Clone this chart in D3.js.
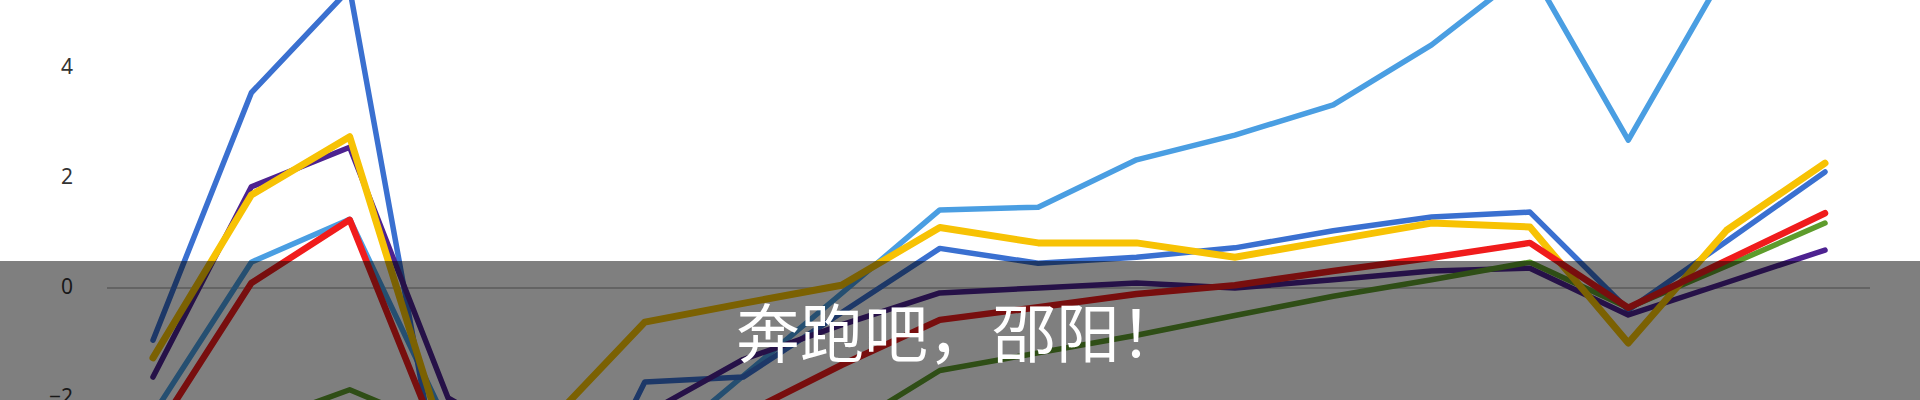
<!DOCTYPE html>
<html>
<head>
<meta charset="utf-8">
<script src="https://cdn.jsdelivr.net/npm/d3@7/dist/d3.min.js"></script>
<style>
  html, body { margin: 0; padding: 0; background: #ffffff; }
  svg { display: block; }
</style>
</head>
<body>
<svg id="chart" width="1920" height="400"></svg>
<script>
// ---- data ----
const categories = ["1","2","3","4","5","6","7","8","9","10","11","12","13","14","15","16","17","18"];
const yTicks = [-2, 0, 2, 4];
const seriesNames = ["lightBlue", "darkBlue", "purple", "green", "yellow", "red"];
const lightBlue = [-2.3, 0.47, 1.25, -2.5, -3.5, -3.1, -1.6, -0.1, 1.42, 1.47, 2.33, 2.78, 3.33, 4.42, 5.81, 2.69, 5.8, 6.5];
const darkBlue  = [-0.95, 3.55, 5.44, -4.4, -5.3, -1.71, -1.62, -0.45, 0.72, 0.45, 0.56, 0.73, 1.04, 1.29, 1.38, -0.4, 0.85, 2.11];
const purple    = [-1.62, 1.84, 2.56, -2.0, -3.0, -2.3, -1.3, -0.67, -0.09, 0.0, 0.09, 0.0, 0.15, 0.31, 0.36, -0.49, 0.1, 0.69];
const green     = [-3.2, -2.5, -1.85, -2.6, -3.5, -3.5, -3.0, -2.6, -1.5, -1.18, -0.86, -0.5, -0.15, 0.15, 0.47, -0.36, 0.4, 1.18];
const yellow    = [-1.27, 1.69, 2.75, -3.0, -2.5, -0.62, -0.28, 0.05, 1.1, 0.82, 0.82, 0.56, 0.87, 1.18, 1.11, -1.0, 1.05, 2.27];
const red       = [-2.7, 0.09, 1.24, -3.2, -3.5, -3.0, -2.3, -1.4, -0.58, -0.35, -0.11, 0.05, 0.31, 0.55, 0.82, -0.36, 0.5, 1.36];
const caption = "奔跑吧，邵阳！";

const seriesData = { lightBlue, darkBlue, purple, green, yellow, red };
const colors = {
  lightBlue: "#4a9ee2",
  darkBlue: "#3a70d0",
  purple: "#4d2290",
  green: "#5e9c2c",
  yellow: "#f7c204",
  red: "#f01c1c"
};
const widths = { lightBlue: 5.5, darkBlue: 5.5, purple: 5.5, green: 5.5, yellow: 7, red: 6.5 };

// ---- layout ----
const svg = d3.select("#chart");
const x = d3.scalePoint().domain(categories).range([153, 1825]);
const y = d3.scaleLinear().domain([-2, 4]).range([398, 68]);

// zero gridline
svg.append("line")
  .attr("x1", 107).attr("x2", 1870)
  .attr("y1", y(0)).attr("y2", y(0))
  .attr("stroke", "#b4b4b4").attr("stroke-width", 1.5);

// y axis labels
const yAxis = d3.axisLeft(y).tickValues(yTicks).tickSize(0).tickPadding(0).tickFormat(d3.format("d"));
const gAxis = svg.append("g").attr("transform", "translate(73,0)").call(yAxis);
gAxis.select(".domain").remove();
gAxis.selectAll("text")
  .attr("font-family", "'Noto Sans', 'Open Sans', sans-serif")
  .attr("font-size", 21)
  .attr("fill", "#333333")
  .attr("dy", "0.26em");

// lines
const line = d3.line()
  .x((d, i) => x(categories[i]))
  .y(d => y(d));

seriesNames.forEach(name => {
  svg.append("path")
    .datum(seriesData[name])
    .attr("d", line)
    .attr("fill", "none")
    .attr("stroke", colors[name])
    .attr("stroke-width", widths[name])
    .attr("stroke-linejoin", "round")
    .attr("stroke-linecap", "round");
});

// overlay banner
svg.append("rect")
  .attr("x", 0).attr("y", 261)
  .attr("width", 1920).attr("height", 139)
  .attr("fill", "rgba(0,0,0,0.5)");

svg.append("text")
  .attr("x", 960).attr("y", 357)
  .attr("text-anchor", "middle")
  .attr("font-family", "'Noto Sans CJK SC', sans-serif")
  .attr("font-size", 64)
  .attr("fill", "#ffffff")
  .text(caption);
</script>
</body>
</html>
